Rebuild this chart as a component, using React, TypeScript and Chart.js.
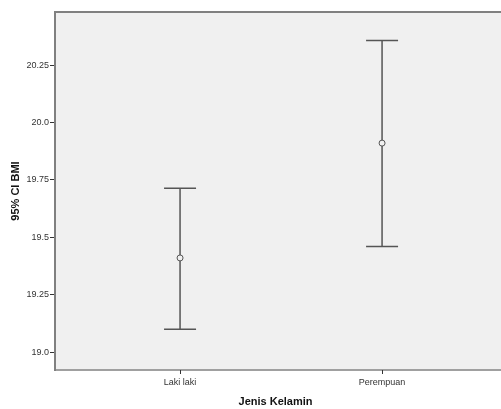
import React, { useEffect, useRef } from "react";
import { Chart, registerables } from "chart.js";

Chart.register(...registerables);

const categories = ["Laki laki", "Perempuan"];
const means = [19.41, 19.91];
const lowers = [19.1, 19.46];
const uppers = [19.713, 20.357];
const yTickValues = [19.0, 19.25, 19.5, 19.75, 20.0, 20.25];
const yTickLabels = ["19.0", "19.25", "19.5", "19.75", "20.0", "20.25"];
const yMin = 18.922;
const yMax = 20.481;
const xMin = 0.381;
const xMax = 2.564;

const FONT = "'Liberation Sans', Arial, sans-serif";

const errorBarPlugin = {
  id: "errorBars",
  beforeDraw(chart: any) {
    const { ctx, chartArea } = chart;
    const right = chart.width;
    ctx.save();
    ctx.fillStyle = "#f0f0f0";
    ctx.fillRect(chartArea.left, chartArea.top, right - chartArea.left, chartArea.bottom - chartArea.top);
    ctx.lineWidth = 2;
    ctx.strokeStyle = "#808080";
    ctx.beginPath();
    ctx.moveTo(chartArea.left - 1, chartArea.top);
    ctx.lineTo(right, chartArea.top);
    ctx.stroke();
    ctx.strokeStyle = "#a0a0a0";
    ctx.beginPath();
    ctx.moveTo(chartArea.left, chartArea.bottom);
    ctx.lineTo(right, chartArea.bottom);
    ctx.stroke();
    ctx.restore();
  },
  beforeDatasetsDraw(chart: any) {
    const { ctx, scales } = chart;
    const xs = scales.x;
    const ys = scales.y;
    ctx.save();
    ctx.strokeStyle = "#555555";
    ctx.lineWidth = 1.5;
    categories.forEach((_, i) => {
      const x = xs.getPixelForValue(i + 1);
      const yl = ys.getPixelForValue(lowers[i]);
      const yu = ys.getPixelForValue(uppers[i]);
      ctx.beginPath();
      ctx.moveTo(x, yl);
      ctx.lineTo(x, yu);
      ctx.moveTo(x - 16, yu);
      ctx.lineTo(x + 16, yu);
      ctx.moveTo(x - 16, yl);
      ctx.lineTo(x + 16, yl);
      ctx.stroke();
    });
    ctx.restore();
  },
};

export default function App() {
  const ref = useRef<HTMLCanvasElement>(null);
  useEffect(() => {
    document.body.style.margin = "0";
    const chart = new Chart(ref.current as HTMLCanvasElement, {
      type: "scatter",
      data: {
        datasets: [
          {
            data: means.map((m, i) => ({ x: i + 1, y: m })),
            pointStyle: "circle",
            radius: 3,
            borderColor: "#555555",
            backgroundColor: "#f0f0f0",
            borderWidth: 1,
          },
        ],
      },
      options: {
        animation: false,
        responsive: false,
        maintainAspectRatio: false,
        layout: { padding: { top: 12, right: 0, left: 0, bottom: 0 } },
        plugins: { legend: { display: false }, tooltip: { enabled: false } },
        scales: {
          x: {
            type: "linear",
            min: xMin,
            max: xMax,
            afterBuildTicks: (s: any) => {
              s.ticks = categories.map((_, i) => ({ value: i + 1 }));
            },
            afterFit: (s: any) => {
              s.height = 39;
            },
            ticks: {
              callback: (v: any) => categories[Number(v) - 1] ?? "",
              font: { family: FONT, size: 9 },
              color: "#333333",
              padding: 3,
              maxRotation: 0,
            },
            grid: { drawOnChartArea: false, tickLength: 4, color: "#333333", tickWidth: 1 },
            border: { display: false },
            title: {
              display: true,
              text: "Jenis Kelamin",
              font: { family: FONT, size: 11, weight: "bold" },
              color: "#111111",
              padding: { top: 0, bottom: 0 },
            },
          },
          y: {
            type: "linear",
            min: yMin,
            max: yMax,
            afterBuildTicks: (s: any) => {
              s.ticks = yTickValues.map((v) => ({ value: v }));
            },
            afterFit: (s: any) => {
              s.width = 55;
            },
            ticks: {
              callback: (v: any) => {
                const idx = yTickValues.findIndex((t) => Math.abs(t - Number(v)) < 1e-6);
                return idx >= 0 ? yTickLabels[idx] : "";
              },
              font: { family: FONT, size: 9 },
              color: "#333333",
              padding: 1,
            },
            grid: { drawOnChartArea: false, tickLength: 5, color: "#333333", tickWidth: 1 },
            border: { color: "#808080", width: 2 },
            title: {
              display: true,
              text: "95% CI BMI",
              font: { family: FONT, size: 11, weight: "bold" },
              color: "#111111",
              padding: { top: 9, bottom: 0 },
            },
          },
        },
      },
      plugins: [errorBarPlugin],
    } as any);
    return () => chart.destroy();
  }, []);
  return (
    <div style={{ width: 501, height: 409 }}>
      <canvas ref={ref} width={501} height={409} style={{ width: 501, height: 409 }} />
    </div>
  );
}
